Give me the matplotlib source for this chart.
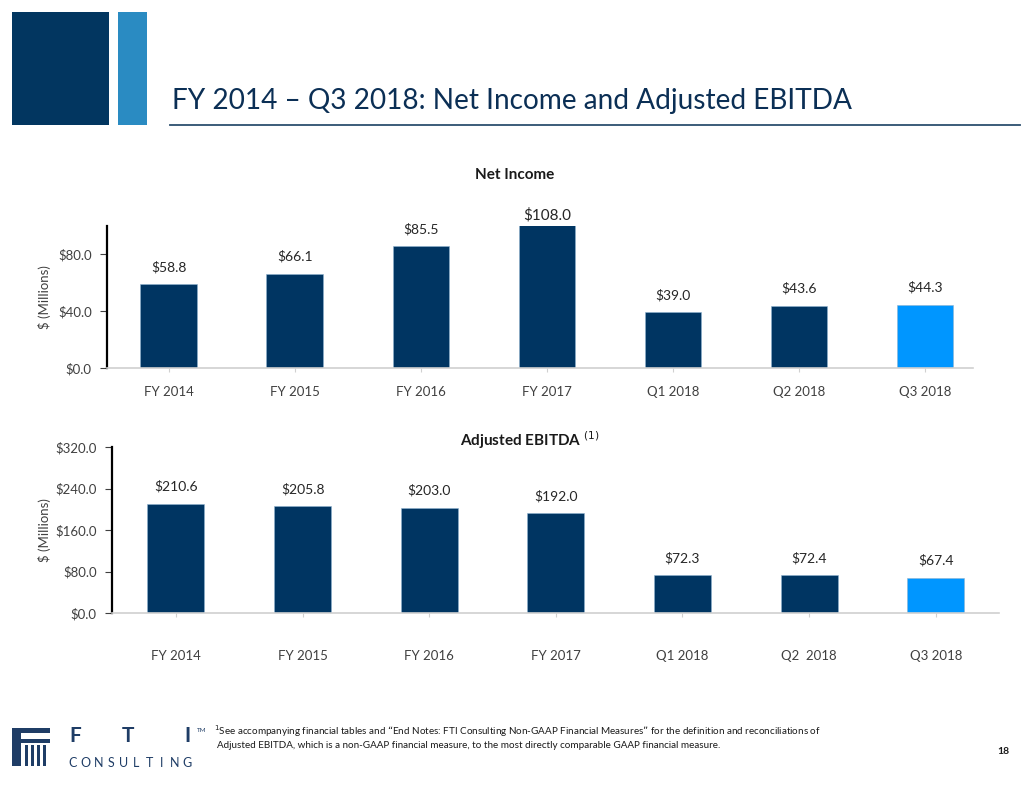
import matplotlib

matplotlib.use("Agg")
import matplotlib.pyplot as plt
from matplotlib.patches import Rectangle
from matplotlib.lines import Line2D

plt.rcParams["font.family"] = ["Lato", "DejaVu Sans"]

W, H = 1032, 792
NAVY = "#003562"
BRIGHT = "#0096FF"
TEXT = "#262626"
TICK = "#404040"

periods = ["FY 2014", "FY 2015", "FY 2016", "FY 2017", "Q1 2018", "Q2 2018", "Q3 2018"]
ebitda_periods = ["FY 2014", "FY 2015", "FY 2016", "FY 2017", "Q1 2018", "Q2  2018", "Q3 2018"]
net_income = [58.8, 66.1, 85.5, 108.0, 39.0, 43.6, 44.3]
adj_ebitda = [210.6, 205.8, 203.0, 192.0, 72.3, 72.4, 67.4]
net_ticks = [0, 40, 80]
ebitda_ticks = [0, 80, 160, 240, 320]


def fx(px):
    return px / W


def fy(py):
    return 1 - py / H


def box(x0, y0, x1, y1):
    # pixel box (top-left origin) -> [left, bottom, width, height]
    return [fx(x0), fy(y1), fx(x1) - fx(x0), fy(y0) - fy(y1)]


def bar_panel(ax, labels, values, ticks, ymax, label_pad, ylabel_x, big=None):
    x = range(len(values))
    colors = [NAVY] * (len(values) - 1) + [BRIGHT]
    ax.bar(x, values, width=0.45, color=colors, edgecolor="#8fb3d0", linewidth=0.4)
    ax.set_ylim(0, ymax)
    ax.set_yticks(ticks)
    ax.set_yticklabels([f"${t:.1f}" for t in ticks], fontsize=9.5, color=TICK)
    ax.set_xticks(list(x))
    ax.set_xticklabels(labels, fontsize=9.5, color=TICK)
    ax.tick_params(axis="x", length=3, color="#d0d0d0", pad=label_pad)
    ax.tick_params(axis="y", length=5, width=0.8, color="#404040", pad=6)
    for s in ("top", "right"):
        ax.spines[s].set_visible(False)
    ax.spines["left"].set_color("black")
    ax.spines["left"].set_linewidth(1.6)
    ax.spines["bottom"].set_color("#d0d0d0")
    ax.spines["bottom"].set_linewidth(1.2)
    ax.set_ylabel("$ (Millions)", fontsize=9.5, color=TICK)
    ax.yaxis.set_label_coords(ylabel_x, 0.5)
    for i, v in enumerate(values):
        size = 11 if i == big else 10
        off = 2 if i == big else 8
        top = min(v, ymax)
        ax.annotate(f"${v:.1f}", (i, top), xytext=(0, off), textcoords="offset points",
                    ha="center", va="bottom", fontsize=size, color=TEXT, annotation_clip=False)


fig = plt.figure(figsize=(W / 100, H / 100), dpi=100)

# header blocks and title
fig.add_artist(Rectangle((fx(12), fy(125)), fx(109) - fx(12), fy(12) - fy(125),
                         transform=fig.transFigure, color="#023660", lw=0))
fig.add_artist(Rectangle((fx(118), fy(125)), fx(147) - fx(118), fy(12) - fy(125),
                         transform=fig.transFigure, color="#2a8bc2", lw=0))
fig.text(fx(172), fy(101), "FY 2014 \u2013 Q3 2018: Net Income and Adjusted EBITDA",
         fontsize=20.2, color="#0b2f55", va="center", ha="left")
fig.add_artist(Line2D([fx(170), fx(1020)], [fy(125), fy(125)], transform=fig.transFigure,
                      color="#2c4f6e", lw=1.3))

# Net income panel
ax1 = fig.add_axes(box(107, 225.5, 973, 368))
ax1.set_xlim(-0.49, 6.38)
bar_panel(ax1, periods, net_income, net_ticks, 100, 10, (51 - 107) / 866, big=3)
fig.text(fx(515), fy(175), "Net Income", fontsize=11, fontweight="bold",
         color="#1a1a1a", ha="center", va="center")

# Adjusted EBITDA panel
ax2 = fig.add_axes(box(112, 447, 999, 613))
ax2.set_xlim(-0.505, 6.5)
bar_panel(ax2, ebitda_periods, adj_ebitda, ebitda_ticks, 320, 24, (51 - 112) / 887)
fig.text(fx(530), fy(440), "Adjusted EBITDA $^{(1)}$", fontsize=11, fontweight="bold",
         color="#1a1a1a", ha="center", va="center")

# logo
logo = "#1f3d66"
for (x0, y0, x1, y1) in [(12, 728, 50, 733), (12, 733, 21, 766), (21, 739, 50, 743),
                         (25, 745, 28, 766), (31, 745, 34, 766), (37, 745, 40, 766),
                         (43, 745, 46, 766)]:
    fig.add_artist(Rectangle((fx(x0), fy(y1)), fx(x1) - fx(x0), fy(y0) - fy(y1),
                             transform=fig.transFigure, color=logo, lw=0))
for ch, cx in zip("FTI", [75, 128, 187]):
    fig.text(fx(cx), fy(736), ch, fontsize=15, fontweight="bold", color=logo,
             ha="center", va="center")
for k, ch in enumerate("CONSULTING"):
    fig.text(fx(73 + k * 12.7), fy(763), ch, fontsize=9, color=logo, ha="center", va="center")
fig.text(fx(197), fy(731), "TM", fontsize=4.5, color=logo, ha="left", va="center")

# footnote and page number
fig.text(fx(214), fy(731), "$^1$See accompanying financial tables and \u201cEnd Notes: FTI Consulting "
         "Non-GAAP Financial Measures\u201d for the definition and reconciliations of",
         fontsize=7.1, color="#1a1a1a", ha="left", va="center")
fig.text(fx(217), fy(745), "Adjusted EBITDA, which is a non-GAAP financial measure, to the most "
         "directly comparable GAAP financial measure.",
         fontsize=7.1, color="#1a1a1a", ha="left", va="center")
fig.text(fx(1003), fy(752), "18", fontsize=7.5, fontweight="bold", color="#1a1a1a",
         ha="center", va="center")

fig.savefig("out.png", dpi=100)
